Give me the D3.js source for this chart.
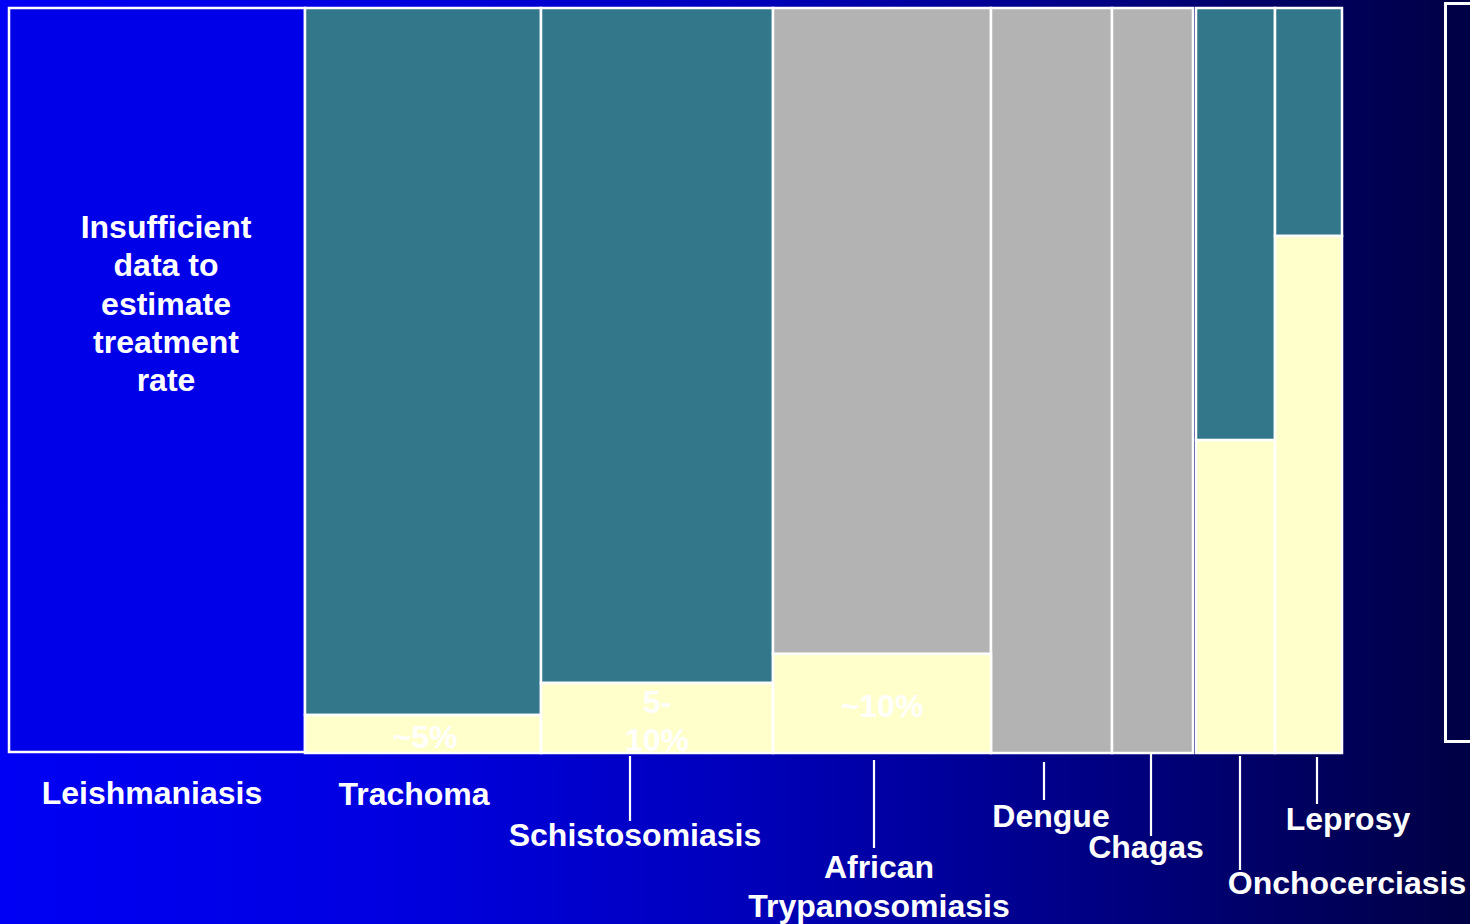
<!DOCTYPE html>
<html>
<head>
<meta charset="utf-8">
<script src="https://cdn.jsdelivr.net/npm/d3@7"></script>
<style>
  html, body { margin: 0; padding: 0; background: #00004a; overflow: hidden; }
  svg { display: block; }
  text { font-family: "Liberation Sans", Arial, sans-serif; font-weight: bold; fill: #ffffff; }
</style>
</head>
<body>
<svg id="chart" width="1470" height="924"></svg>
<script>
// Diseases, ordered left to right
const diseases = ["Leishmaniasis", "Trachoma", "Schistosomiasis", "African Trypanosomiasis",
                  "Dengue", "Chagas", "Onchocerciasis", "Leprosy"];
// Relative disease burden (column widths)
const burden = [296, 236, 232, 218, 121, 81, 79, 67];
// Column group (the last two form a separate block)
const group = [0, 0, 0, 0, 0, 0, 1, 1];
// Share of cases treated, percent (null = insufficient data)
const treated = [null, 5.1, 9.4, 13.3, 0, 0, 42, 69.4];
// Kind of the untreated part: "teal" = estimated, "gray" = uncertain
const untreatedKind = [null, "teal", "teal", "gray", "gray", "gray", "teal", "teal"];
// Text stated inside the treated segment
const treatedText = [null, ["~5%"], ["5-", "10%"], ["~10%"], null, null, null, null];

const W = 1470, H = 924;
const svg = d3.select("#chart");

// Background gradient, bright blue to dark navy
const defs = svg.append("defs");
const grad = defs.append("linearGradient").attr("id", "bg").attr("x1", "0").attr("x2", "1").attr("y1", "0").attr("y2", "0");
[[0, "#0000f4"], [0.26, "#0000e1"], [0.49, "#0000be"], [0.73, "#000087"], [0.95, "#000050"], [1, "#000044"]]
  .forEach(([o, c]) => grad.append("stop").attr("offset", o).attr("stop-color", c));
svg.append("rect").attr("width", W).attr("height", H).attr("fill", "url(#bg)");

// Scales
const gapUnits = 3;
const total = d3.sum(burden) + gapUnits * (d3.max(group));
const x = d3.scaleLinear().domain([0, total]).range([9, 1342]);
const y = d3.scaleLinear().domain([0, 100]).range([753, 8]);

const cols = diseases.map((d, i) => {
  const start = d3.sum(burden.slice(0, i)) + group[i] * gapUnits;
  return { name: d, i, x0: start, x1: start + burden[i], treated: treated[i], kind: untreatedKind[i], text: treatedText[i] };
});

const colours = { teal: "#33778b", gray: "#b3b3b3", yellow: "#ffffcc", nodata: "#0000e8" };

const g = svg.append("g");
const stroke = "#ffffff", sw = 2.5;

// Columns with no treatment estimate
g.selectAll("rect.nodata").data(cols.filter(c => c.treated === null)).join("rect")
  .attr("class", "nodata")
  .attr("x", c => x(c.x0)).attr("width", c => x(c.x1) - x(c.x0))
  .attr("y", y(100)).attr("height", y(0) - y(100) - 1)
  .attr("fill", colours.nodata).attr("stroke", stroke).attr("stroke-width", sw);

const est = cols.filter(c => c.treated !== null);

// Untreated part (top)
g.selectAll("rect.untreated").data(est).join("rect")
  .attr("class", "untreated")
  .attr("x", c => x(c.x0)).attr("width", c => x(c.x1) - x(c.x0))
  .attr("y", y(100)).attr("height", c => y(c.treated) - y(100))
  .attr("fill", c => colours[c.kind]).attr("stroke", stroke).attr("stroke-width", sw);

// Treated part (bottom)
g.selectAll("rect.treated").data(est.filter(c => c.treated > 0)).join("rect")
  .attr("class", "treated")
  .attr("x", c => x(c.x0)).attr("width", c => x(c.x1) - x(c.x0))
  .attr("y", c => y(c.treated)).attr("height", c => y(0) - y(c.treated))
  .attr("fill", colours.yellow).attr("stroke", stroke).attr("stroke-width", sw);

// Percent text inside treated segments
const fs = 32;
est.filter(c => c.text).forEach(c => {
  const cx = (x(c.x0) + x(c.x1)) / 2 + (c.i === 1 ? 2 : 0);
  const n = c.text.length;
  const mid = (y(c.treated) + y(0)) / 2;
  c.text.forEach((t, k) => {
    g.append("text").attr("x", cx).attr("y", mid + 14 + (k - (n - 1) / 2) * 38)
      .attr("text-anchor", "middle").attr("font-size", fs).text(t);
  });
});

// "Insufficient data" note inside the first column
const note = ["Insufficient", "data to", "estimate", "treatment", "rate"];
const c0 = cols[0];
g.selectAll("text.note").data(note).join("text")
  .attr("class", "note")
  .attr("x", (x(c0.x0) + x(c0.x1)) / 2 + 9)
  .attr("y", (d, k) => 238 + k * 38.3)
  .attr("text-anchor", "middle").attr("font-size", fs).text(d => d);

// Category labels with leader lines
const labelLayout = [
  { lines: ["Leishmaniasis"], lx: 152, ly: 804, leader: null },
  { lines: ["Trachoma"], lx: 414, ly: 805, leader: null },
  { lines: ["Schistosomiasis"], lx: 635, ly: 846, leader: [630, 756, 821] },
  { lines: ["African", "Trypanosomiasis"], lx: 879, ly: 878, leader: [874, 760, 848] },
  { lines: ["Dengue"], lx: 1051, ly: 827, leader: [1044, 762, 800] },
  { lines: ["Chagas"], lx: 1146, ly: 858, leader: [1151, 752, 836] },
  { lines: ["Onchocerciasis"], lx: 1347, ly: 894, leader: [1240, 756, 870] },
  { lines: ["Leprosy"], lx: 1348, ly: 830, leader: [1317, 757, 804] }
];
const lab = svg.append("g");
cols.forEach((c, i) => {
  const L = labelLayout[i];
  if (L.leader) {
    lab.append("line").attr("x1", L.leader[0]).attr("x2", L.leader[0])
      .attr("y1", L.leader[1]).attr("y2", L.leader[2])
      .attr("stroke", "#ffffff").attr("stroke-width", 2.2);
  }
  L.lines.forEach((t, k) => {
    lab.append("text").attr("x", L.lx).attr("y", L.ly + k * 38.5)
      .attr("text-anchor", "middle").attr("font-size", fs).text(t);
  });
});

// Legend frame at the right edge
svg.append("rect").attr("x", 1445.5).attr("y", 3.5).attr("width", 80).attr("height", 738)
  .attr("fill", "#000046").attr("stroke", "#ffffff").attr("stroke-width", 3);
</script>
</body>
</html>
